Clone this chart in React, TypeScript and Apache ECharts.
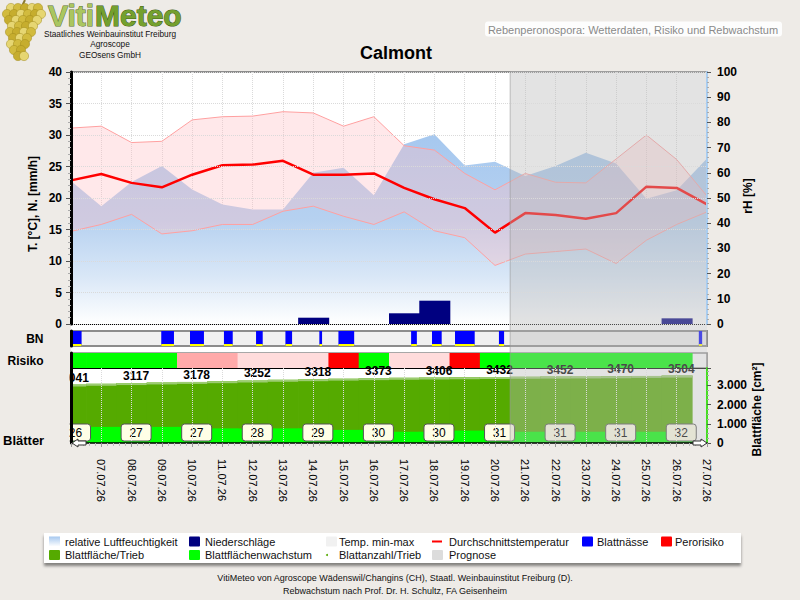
import React, { useEffect, useRef } from 'react';
import * as echarts from 'echarts';

// ---------------- data ----------------
const DATES = [
  '06.07.26', '07.07.26', '08.07.26', '09.07.26', '10.07.26', '11.07.26', '12.07.26', '13.07.26',
  '14.07.26', '15.07.26', '16.07.26', '17.07.26', '18.07.26', '19.07.26', '20.07.26', '21.07.26',
  '22.07.26', '23.07.26', '24.07.26', '25.07.26', '26.07.26', '27.07.26',
];
const PROGNOSE_AB = '21.07.26';

// relative Luftfeuchtigkeit [%]
const RH = [56.7, 46.7, 56.3, 62.7, 53.4, 47.4, 45.4, 45.4, 60.0, 62.0, 51.1, 71.3, 75.3, 62.9, 64.4, 58.7, 62.7, 68.0, 63.7, 49.7, 53.1, 65.7];
// Temperatur [°C]
const T_MEAN = [22.8, 23.8, 22.4, 21.7, 23.7, 25.2, 25.3, 25.9, 23.7, 23.7, 23.9, 21.6, 19.8, 18.4, 14.5, 17.6, 17.3, 16.7, 17.6, 21.8, 21.6, 19.0];
const T_MAX = [31.1, 31.4, 28.8, 29.0, 32.4, 32.9, 33.0, 33.7, 33.5, 31.4, 32.9, 28.3, 27.6, 23.9, 21.3, 23.9, 22.5, 22.4, 26.2, 30.0, 26.1, 20.3];
const T_MIN = [14.7, 15.8, 17.4, 14.3, 14.8, 15.8, 15.8, 17.9, 18.7, 17.1, 15.8, 17.8, 14.8, 13.7, 9.3, 11.1, 11.5, 11.9, 9.6, 13.3, 15.8, 17.8];
// Niederschläge [mm]
const RAIN = [0, 0, 0, 0, 0, 0, 0, 0, 1.0, 0, 0, 1.7, 3.7, 0, 0, 0, 0, 0, 0, 0, 0.9, 0];
// Blattnässe periods [from, to] in days since 06.07.
const BN_PERIODS = [
  [0.0, 0.35], [2.98, 3.40], [3.93, 4.39], [5.05, 5.34], [6.11, 6.33], [7.08, 7.30], [8.20, 8.29],
  [8.83, 9.35], [11.23, 11.42], [11.92, 12.24], [12.68, 13.33], [14.13, 14.30], [20.73, 20.84],
];
// Risiko: 0 kein, 1 gering, 2 mittel, 3 hoch
const RISK = [0, 0, 0, 0, 2, 2, 1, 1, 1, 3, 0, 1, 1, 3, 0, 0, 0, 0, 0, 0, 0, null];
// Blattfläche/Trieb [cm²]
const BLATTFLAECHE = [3041, 3079, 3117, 3149, 3178, 3214, 3252, 3287, 3318, 3347, 3373, 3391, 3406, 3419, 3432, 3443, 3452, 3460, 3470, 3488, 3504, null];
// Blattflächenwachstum [cm²/Tag]
const BLATT_WACHSTUM = [43, 43, 43, 43, 43, 39, 39, 39, 39, 35, 35, 30, 30, 33, 33, 30, 30, 30, 30, 30, 30, null];
// Blattanzahl/Trieb
const BLATTANZAHL = [26, null, 27, null, 27, null, 28, null, 29, null, 30, null, 30, null, 31, null, 31, null, 31, null, 32, null];

// ---------------- style / layout ----------------
const FONT = "'Liberation Sans', Arial, Helvetica, sans-serif";
const BG = '#eeebe7';
const PLOT_LEFT = 71;
const PLOT_WIDTH = 636;
const MAIN_TOP = 72, MAIN_H = 252;
const BN_TOP = 331, BN_H = 15;
const RISK_TOP = 353, RISK_H = 15;
const BLATT_TOP = 368, BLATT_H = 75;
const LABEL_SHIFT = 0.15;
const SEAM = 0.025; // small overlap between adjacent day cells (avoids anti-alias seams)
const RISK_COLORS = ['#00ff00', '#ffdcdc', '#ffaaaa', '#ff0000'];

function cellRect(api: any, x0: number, x1: number, y0: number, y1: number) {
  const a = api.coord([x0, y1]);
  const b = api.coord([x1, y0]);
  return { x: a[0], y: a[1], width: b[0] - a[0], height: b[1] - a[1] };
}

function txt(x: number, y: number, text: string, font: string, fill: string, align = 'left', vAlign = 'middle', z = 101, extra: any = {}, styleExtra: any = {}) {
  return {
    type: 'text', x, y, z, silent: true, ...extra,
    style: { text, font, fill, textAlign: align, align, textVerticalAlign: vAlign, verticalAlign: vAlign, ...styleExtra },
  };
}

function buildOption(): any {
  const n = DATES.length;
  const progStart = DATES.indexOf(PROGNOSE_AB) - 0.5;
  const xy = (arr: (number | null)[]) => arr.map((v, i) => [i, v]);
  const boldLabel = { fontWeight: 'bold', fontSize: 12, color: '#000', fontFamily: FONT };
  const dotted = { color: '#dadada', type: 'dotted', width: 1 };
  const thousands = (v: number) => (v === 0 ? '0' : v % 1000 === 0 && v <= 3000 ? `${v / 1000}.000` : '');
  const xBase = { type: 'value', min: 0, max: n - 1, interval: 1 };

  // ---------- graphic (decoration, logo, legend, labels) ----------
  const graphic: any[] = [];
  graphic.push({ type: 'rect', z: -5, silent: true, shape: { x: PLOT_LEFT, y: MAIN_TOP - 1, width: PLOT_WIDTH, height: BLATT_TOP + BLATT_H - MAIN_TOP + 1 }, style: { fill: '#ffffff' } });
  // grapes
  const grapeRows = [
    [8, [11, 18, 25, 32, 38]], [14, [7, 14, 21, 28, 35, 41]], [20, [9, 16, 23, 30, 37]], [26, [12, 19, 26, 33]],
    [32, [10, 17, 24, 31]], [38, [13, 20, 27]], [44, [11, 18, 25]], [50, [14, 21]], [56, [18, 24]],
  ] as [number, number[]][];
  graphic.push({ type: 'line', z: 1, silent: true, shape: { x1: 25, y1: 0, x2: 22, y2: 6 }, style: { stroke: '#8a7a30', lineWidth: 2 } });
  grapeRows.forEach(([y, xs], r) => xs.forEach((x, k) => graphic.push({
    type: 'circle', z: 2, silent: true, shape: { cx: x, cy: y, r: 4.6 },
    style: { fill: (r + k) % 3 === 0 ? '#e6d672' : (r + k) % 3 === 1 ? '#d2bb3e' : '#c6ad2e', stroke: '#a08a1c', lineWidth: 0.5 },
  })));
  // VitiMeteo
  graphic.push(txt(48, 15, 'Viti', `bold 30px ${FONT}`, '#aac660', 'left', 'middle', 3, {}, { stroke: '#5b6e2c', lineWidth: 1 }));
  graphic.push(txt(95, 15, 'Meteo', `bold 30px ${FONT}`, '#74a02e', 'left', 'middle', 3, {}, { stroke: '#3e5a14', lineWidth: 1 }));
  graphic.push(txt(110, 33.5, 'Staatliches Weinbauinstitut Freiburg', `9px ${FONT}`, '#111', 'center', 'middle', 3, { scaleX: 0.92 }));
  graphic.push(txt(110, 44, 'Agroscope', `9px ${FONT}`, '#111', 'center', 'middle', 3, { scaleX: 0.92 }));
  graphic.push(txt(110, 54.5, 'GEOsens GmbH', `9px ${FONT}`, '#111', 'center', 'middle', 3, { scaleX: 0.92 }));
  // top right box
  graphic.push({ type: 'rect', z: 1, silent: true, shape: { x: 485, y: 21.5, width: 297, height: 15, r: 3 }, style: { fill: '#fdfdfd' } });
  graphic.push(txt(633, 29.5, 'Rebenperonospora: Wetterdaten, Risiko und Rebwachstum', `11px ${FONT}`, '#8a8a8a', 'center', 'middle', 2));
  // title
  graphic.push(txt(396, 53, 'Calmont', `bold 18px ${FONT}`, '#000', 'center', 'middle', 2));
  // axis names
  graphic.push(txt(33, MAIN_TOP + MAIN_H / 2 + 6, 'T. [°C], N. [mm/h]', `bold 12px ${FONT}`, '#000', 'center', 'middle', 2, { rotation: Math.PI / 2 }));
  graphic.push(txt(748, MAIN_TOP + MAIN_H / 2 - 2, 'rH [%]', `bold 12px ${FONT}`, '#000', 'center', 'middle', 2, { rotation: Math.PI / 2 }));
  graphic.push(txt(757, BLATT_TOP + BLATT_H / 2 + 4, 'Blattfläche [cm²]', `bold 12px ${FONT}`, '#000', 'center', 'middle', 2, { rotation: Math.PI / 2 }));
  // cover (clips labels left of plot)
  graphic.push({ type: 'rect', z: 100, silent: true, shape: { x: 0, y: BLATT_TOP - 1, width: PLOT_LEFT - 1.5, height: 20 }, style: { fill: BG } });
  graphic.push({ type: 'rect', z: 100, silent: true, shape: { x: 48, y: BLATT_TOP + BLATT_H - 22, width: PLOT_LEFT - 49.5, height: 22 }, style: { fill: BG } });
  // strip labels
  graphic.push(txt(43.5, 338.5, 'BN', `bold 12px ${FONT}`, '#000', 'right'));
  graphic.push(txt(43.5, 360.5, 'Risiko', `bold 12px ${FONT}`, '#000', 'right'));
  graphic.push(txt(3, 440, 'Blätter', `bold 13px ${FONT}`, '#000', 'left'));
  // end arrows
  const yb = BLATT_TOP + BLATT_H;
  const xr = PLOT_LEFT + PLOT_WIDTH;
  graphic.push({ type: 'polygon', z: 102, silent: true, shape: { points: [[PLOT_LEFT + 1, yb], [PLOT_LEFT + 7, yb - 4], [PLOT_LEFT + 7, yb - 2], [PLOT_LEFT + 15, yb - 2], [PLOT_LEFT + 15, yb + 2], [PLOT_LEFT + 7, yb + 2], [PLOT_LEFT + 7, yb + 4]] }, style: { fill: '#fff', stroke: '#333', lineWidth: 1 } });
  graphic.push({ type: 'polygon', z: 102, silent: true, shape: { points: [[xr, yb], [xr - 6, yb - 4], [xr - 6, yb - 2], [xr - 14, yb - 2], [xr - 14, yb + 2], [xr - 6, yb + 2], [xr - 6, yb + 4]] }, style: { fill: '#fff', stroke: '#333', lineWidth: 1 } });

  // legend
  graphic.push({ type: 'rect', z: 1, silent: true, shape: { x: 44, y: 533, width: 697, height: 30 }, style: { fill: '#ffffff', shadowColor: 'rgba(0,0,0,0.45)', shadowBlur: 3, shadowOffsetY: 3 } });
  const legend: any[] = [
    { row: 0, ix: 49, tx: 65, text: 'relative Luftfeuchtigkeit', kind: 'grad' },
    { row: 0, ix: 189, tx: 205, text: 'Niederschläge', kind: 'rect', color: '#000080' },
    { row: 0, ix: 326, tx: 339, text: 'Temp. min-max', kind: 'rect', color: '#f1f1f1' },
    { row: 0, ix: 432, tx: 449, text: 'Durchschnittstemperatur', kind: 'line', color: '#ff0000' },
    { row: 0, ix: 582, tx: 597, text: 'Blattnässe', kind: 'rect', color: '#0000ff' },
    { row: 0, ix: 661, tx: 675, text: 'Perorisiko', kind: 'rect', color: '#ff0000' },
    { row: 1, ix: 49, tx: 65, text: 'Blattfläche/Trieb', kind: 'rect', color: '#55aa00' },
    { row: 1, ix: 189, tx: 205, text: 'Blattflächenwachstum', kind: 'rect', color: '#00ff00' },
    { row: 1, ix: 326, tx: 339, text: 'Blattanzahl/Trieb', kind: 'dot', color: '#55aa00' },
    { row: 1, ix: 432, tx: 449, text: 'Prognose', kind: 'rect', color: '#dcdcdc' },
  ];
  legend.forEach((it) => {
    const cy = it.row === 0 ? 541.5 : 555;
    if (it.kind === 'grad') {
      graphic.push({ type: 'rect', z: 2, silent: true, shape: { x: it.ix, y: cy - 5, width: 11, height: 10 }, style: { fill: new echarts.graphic.LinearGradient(0, 0, 0, 1, [{ offset: 0, color: '#a6c8ef' }, { offset: 1, color: '#ffffff' }]) } });
    } else if (it.kind === 'rect') {
      graphic.push({ type: 'rect', z: 2, silent: true, shape: { x: it.ix, y: cy - 5, width: 11, height: 10, r: 1 }, style: { fill: it.color } });
    } else if (it.kind === 'line') {
      graphic.push({ type: 'line', z: 2, silent: true, shape: { x1: it.ix, y1: cy, x2: it.ix + 10, y2: cy }, style: { stroke: it.color, lineWidth: 2 } });
    } else {
      graphic.push({ type: 'circle', z: 2, silent: true, shape: { cx: it.ix + 1, cy, r: 1 }, style: { fill: it.color } });
    }
    graphic.push(txt(it.tx, cy, it.text, `11px ${FONT}`, '#111', 'left', 'middle', 3));
  });
  // footer
  graphic.push(txt(395, 578, 'VitiMeteo von Agroscope Wädenswil/Changins (CH), Staatl. Weinbauinstitut Freiburg (D).', `9px ${FONT}`, '#111', 'center', 'middle', 3));
  graphic.push(txt(395, 591, 'Rebwachstum nach Prof. Dr. H. Schultz, FA Geisenheim', `9px ${FONT}`, '#111', 'center', 'middle', 3));

  return {
    animation: false,
    backgroundColor: BG,
    textStyle: { fontFamily: FONT },
    grid: [
      { left: PLOT_LEFT, top: MAIN_TOP, width: PLOT_WIDTH, height: MAIN_H, show: true, backgroundColor: '#ffffff', borderColor: '#8c8c8c', borderWidth: 2 },
      { left: PLOT_LEFT, top: BN_TOP, width: PLOT_WIDTH, height: BN_H, show: true, backgroundColor: '#f0f0f0', borderColor: '#8c8c8c', borderWidth: 2 },
      { left: PLOT_LEFT, top: RISK_TOP, width: PLOT_WIDTH, height: RISK_H, show: true, backgroundColor: '#ffffff', borderColor: '#8c8c8c', borderWidth: 1.5 },
      { left: PLOT_LEFT, top: BLATT_TOP, width: PLOT_WIDTH, height: BLATT_H, show: false },
    ],
    xAxis: [
      { ...xBase, gridIndex: 0, axisLine: { onZero: false, lineStyle: { color: '#000', width: 1 } }, axisTick: { show: false }, axisLabel: { show: false }, splitLine: { show: true, lineStyle: dotted } },
      { ...xBase, gridIndex: 1, show: false },
      { ...xBase, gridIndex: 2, axisLine: { onZero: false, lineStyle: { color: '#000', width: 1 } }, axisTick: { show: false }, axisLabel: { show: false }, splitLine: { show: false } },
      {
        ...xBase, gridIndex: 3, z: 60,
        axisLine: { onZero: false, lineStyle: { color: '#000', width: 1.5 } },
        axisTick: { show: true, length: 4, lineStyle: { color: '#999' } },
        minorTick: { show: true, splitNumber: 5, length: 3, lineStyle: { color: '#bbb' } },
        axisLabel: { rotate: -90, margin: 16, fontSize: 11, color: '#000', fontFamily: FONT, formatter: (v: number) => (v === 0 ? '' : DATES[v] ?? '') },
        splitLine: { show: true, lineStyle: dotted },
      },
    ],
    yAxis: [
      {
        type: 'value', gridIndex: 0, min: 0, max: 40, interval: 5, position: 'left', z: 60,
        axisLine: { show: true, onZero: false, lineStyle: { color: '#000', width: 3 } },
        axisTick: { show: true, length: 5, lineStyle: { color: '#555' } },
        minorTick: { show: true, splitNumber: 5, length: 3, lineStyle: { color: '#aaa' } },
        axisLabel: { ...boldLabel, margin: 9 },
        splitLine: { show: true, lineStyle: dotted },
      },
      {
        type: 'value', gridIndex: 0, min: 0, max: 100, interval: 10, position: 'right', z: 60,
        axisLine: { show: true, onZero: false, lineStyle: { color: '#a9cdf0', width: 2 } },
        axisTick: { show: true, length: 4, lineStyle: { color: '#555' } },
        minorTick: { show: true, splitNumber: 5, length: 2, lineStyle: { color: '#aaa' } },
        axisLabel: { ...boldLabel, margin: 10 },
        splitLine: { show: false },
      },
      { type: 'value', gridIndex: 1, min: 0, max: 1, z: 60, axisLine: { show: true, lineStyle: { color: '#000', width: 3 } }, axisTick: { show: false }, axisLabel: { show: false }, splitLine: { show: false } },
      { type: 'value', gridIndex: 2, min: 0, max: 1, z: 60, axisLine: { show: true, lineStyle: { color: '#000', width: 3 } }, axisTick: { show: false }, axisLabel: { show: false }, splitLine: { show: false } },
      {
        type: 'value', gridIndex: 3, min: 0, max: 3900, interval: 1000, position: 'right', z: 60,
        axisLine: { show: true, onZero: false, lineStyle: { color: '#44dd22', width: 2 } },
        axisTick: { show: true, length: 4, lineStyle: { color: '#555' } },
        minorTick: { show: true, splitNumber: 4, length: 2, lineStyle: { color: '#aaa' } },
        axisLabel: { ...boldLabel, margin: 10, formatter: thousands },
        splitLine: { show: false },
      },
      { type: 'value', gridIndex: 3, min: 0, max: 3900, position: 'left', z: 60, axisLine: { show: true, onZero: false, lineStyle: { color: '#000', width: 3 } }, axisTick: { show: false }, axisLabel: { show: false }, splitLine: { show: false } },
      { type: 'value', gridIndex: 3, min: 0, max: 200, show: false },
    ],
    graphic,
    series: [
      {
        type: 'line', name: 'relative Luftfeuchtigkeit', xAxisIndex: 0, yAxisIndex: 1, z: 2,
        data: xy(RH), symbol: 'none', lineStyle: { width: 0, opacity: 0 },
        areaStyle: { opacity: 1, color: new echarts.graphic.LinearGradient(0, 0, 0, 1, [
          { offset: 0, color: '#a6c8ef' }, { offset: 0.45, color: '#b6d1f0' }, { offset: 0.75, color: '#d9e7f7' }, { offset: 1, color: '#ffffff' },
        ]) },
      },
      // band: value first, index second, so that the value dimension is the stacked one
      {
        type: 'line', name: 'tmin-base', xAxisIndex: 0, yAxisIndex: 0, z: 3, stack: 'band',
        data: T_MIN.map((v, i) => [v, i]), encode: { x: 1, y: 0 },
        symbol: 'none', lineStyle: { width: 0, opacity: 0 }, silent: true,
      },
      {
        type: 'line', name: 'Temp. min-max', xAxisIndex: 0, yAxisIndex: 0, z: 3, stack: 'band',
        data: T_MAX.map((v, i) => [+(v - T_MIN[i]).toFixed(2), i]), encode: { x: 1, y: 0 },
        symbol: 'none', lineStyle: { width: 0, opacity: 0 },
        areaStyle: { color: 'rgba(255,190,196,0.35)', opacity: 1 },
      },
      { type: 'line', name: 'Tmax', xAxisIndex: 0, yAxisIndex: 0, z: 3, data: xy(T_MAX), symbol: 'none', lineStyle: { color: '#ffa0a0', width: 1 } },
      { type: 'line', name: 'Tmin', xAxisIndex: 0, yAxisIndex: 0, z: 3, data: xy(T_MIN), symbol: 'none', lineStyle: { color: '#ffa0a0', width: 1 } },
      { type: 'line', name: 'Durchschnittstemperatur', xAxisIndex: 0, yAxisIndex: 0, z: 4, data: xy(T_MEAN), symbol: 'none', lineStyle: { color: '#ff0000', width: 2.5 } },
      {
        type: 'custom', name: 'Niederschläge', xAxisIndex: 0, yAxisIndex: 0, z: 5,
        data: RAIN.map((v, i) => [i, v]).filter((d) => d[1] > 0), encode: { x: 0, y: 1 },
        renderItem: (params: any, api: any) => {
          const i = api.value(0), v = api.value(1);
          const r = echarts.graphic.clipRectByRect(cellRect(api, i - 0.5, i + 0.5 + SEAM, 0, v), params.coordSys);
          return r ? { type: 'rect', shape: r, style: { fill: '#000080' } } : null;
        },
      },
      {
        type: 'custom', name: 'Blattnässe', xAxisIndex: 1, yAxisIndex: 2, z: 5,
        data: BN_PERIODS.map((p) => [p[0], p[1], 1]), encode: { x: [0, 1], y: 2 },
        renderItem: (params: any, api: any) => {
          const r = echarts.graphic.clipRectByRect(cellRect(api, api.value(0), api.value(1), 0, 1), params.coordSys);
          if (!r) return null;
          return { type: 'group', children: [
            { type: 'rect', shape: r, style: { fill: '#0000ff' } },
            { type: 'rect', shape: { x: r.x, y: r.y + r.height - 2, width: r.width, height: 2 }, style: { fill: '#ffff00' } },
          ] };
        },
      },
      {
        type: 'custom', name: 'Perorisiko', xAxisIndex: 2, yAxisIndex: 3, z: 5,
        data: RISK.map((r, i) => [i, 1, r]).filter((d) => d[2] !== null), encode: { x: 0, y: 1 },
        renderItem: (params: any, api: any) => {
          const i = api.value(0), lvl = api.value(2);
          const r = echarts.graphic.clipRectByRect(cellRect(api, i - 0.5, i + 0.5 + SEAM, 0, 1), params.coordSys);
          return r ? { type: 'rect', shape: r, style: { fill: RISK_COLORS[lvl] } } : null;
        },
      },
      {
        type: 'custom', name: 'Blattfläche/Trieb', xAxisIndex: 3, yAxisIndex: 4, z: 5,
        data: BLATTFLAECHE.map((v, i) => [i, v]).filter((d) => d[1] !== null), encode: { x: 0, y: 1 },
        renderItem: (params: any, api: any) => {
          const i = api.value(0), v = api.value(1);
          const r = echarts.graphic.clipRectByRect(cellRect(api, i - 0.5, i + 0.5 + SEAM, 0, v), params.coordSys);
          if (!r) return null;
          const children: any[] = [
            { type: 'rect', shape: r, style: { fill: '#55aa00' } },
            { type: 'rect', shape: { x: r.x, y: r.y, width: r.width, height: 2 }, style: { fill: '#9ccc72' } },
          ];
          if (i % 2 === 0) {
            const p = api.coord([i + LABEL_SHIFT, v]);
            children.push({ type: 'text', x: p[0], y: p[1] - 1, style: { text: String(v), font: `bold 12px ${FONT}`, fill: '#000', textAlign: 'center', align: 'center', textVerticalAlign: 'bottom', verticalAlign: 'bottom' } });
          }
          return { type: 'group', children };
        },
      },
      {
        type: 'custom', name: 'Blattflächenwachstum', xAxisIndex: 3, yAxisIndex: 6, z: 6,
        data: BLATT_WACHSTUM.map((v, i) => [i, v]).filter((d) => d[1] !== null), encode: { x: 0, y: 1 },
        renderItem: (params: any, api: any) => {
          const i = api.value(0), v = api.value(1);
          const r = echarts.graphic.clipRectByRect(cellRect(api, i - 0.5, i + 0.5 + SEAM, 0, v), params.coordSys);
          return r ? { type: 'rect', shape: r, style: { fill: '#00ff00' } } : null;
        },
      },
      {
        type: 'custom', name: 'Blattanzahl/Trieb', xAxisIndex: 3, yAxisIndex: 4, z: 7,
        data: BLATTANZAHL.map((v, i) => [i, v]).filter((d) => d[1] !== null), encode: { x: 0, y: 1 },
        renderItem: (params: any, api: any) => {
          const i = api.value(0), v = api.value(1);
          const cx = api.coord([i + LABEL_SHIFT, 0])[0];
          const bottom = params.coordSys.y + params.coordSys.height;
          return { type: 'group', children: [
            { type: 'rect', shape: { x: cx - 15, y: bottom - 19, width: 30, height: 17, r: 3 }, style: { fill: '#ffffe6', stroke: '#555', lineWidth: 1 } },
            { type: 'text', x: cx, y: bottom - 10.5, style: { text: String(v), font: `12px ${FONT}`, fill: '#000', textAlign: 'center', align: 'center', textVerticalAlign: 'middle', verticalAlign: 'middle' } },
          ] };
        },
      },
      {
        type: 'custom', name: 'Prognose', xAxisIndex: 0, yAxisIndex: 0, z: 50, silent: true,
        data: [[progStart, n - 1]], encode: { x: [0, 1] },
        renderItem: (_params: any, api: any) => {
          const x0 = api.coord([api.value(0), 0])[0];
          const x1 = api.coord([api.value(1), 0])[0];
          const y0 = MAIN_TOP - 1, y1 = BLATT_TOP + BLATT_H;
          return { type: 'group', children: [
            { type: 'rect', shape: { x: x0, y: y0, width: x1 - x0, height: y1 - y0 }, style: { fill: 'rgba(185,185,185,0.4)' } },
            { type: 'line', shape: { x1: x0, y1: y0, x2: x0, y2: y1 }, style: { stroke: 'rgba(150,150,150,0.6)', lineWidth: 1 } },
          ] };
        },
      },
    ],
  };
}

export default function App() {
  const ref = useRef<HTMLDivElement>(null);
  useEffect(() => {
    const chart = echarts.init(ref.current!, null, { renderer: 'svg' });
    chart.setOption(buildOption());
    return () => chart.dispose();
  }, []);
  return <div ref={ref} style={{ position: 'absolute', left: 0, top: 0, width: 800, height: 600, background: BG }} />;
}
